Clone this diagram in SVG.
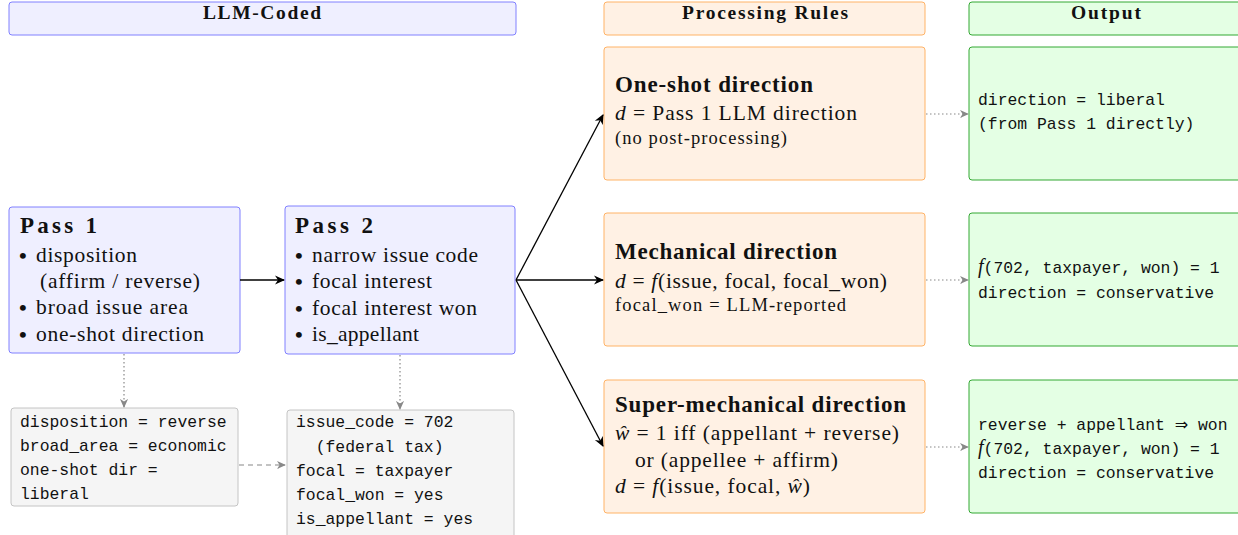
<svg xmlns="http://www.w3.org/2000/svg" width="1238" height="535" viewBox="0 0 1238 535">
<style>
.blue{fill:#efefff;stroke:#8080ff;stroke-width:1}
.orange{fill:#fff1e4;stroke:#ffb366;stroke-width:1}
.green{fill:#e4ffe4;stroke:#33a833;stroke-width:1}
.gray{fill:#f5f5f5;stroke:#c4c4c4;stroke-width:1}
.hdr{font-family:"Liberation Serif",serif;font-weight:bold;font-size:19.5px;fill:#111;text-anchor:middle}
.ttl{font-family:"Liberation Serif",serif;font-weight:bold;font-size:23px;fill:#111}
.rm{font-family:"Liberation Serif",serif;font-size:21.5px;fill:#111}
.bul{font-family:"Liberation Serif",serif;font-size:22px;font-weight:bold;fill:#111}
.sm{font-family:"Liberation Serif",serif;font-size:18.5px;fill:#111}
.tt{font-family:"Liberation Mono",monospace;font-size:16.4px;fill:#111}
.it{font-style:italic}
.solid{stroke:#000;stroke-width:1.3;fill:none}
.dot{stroke:#888;stroke-width:1.2;stroke-dasharray:1.5 2.5;fill:none}
.dash{stroke:#888;stroke-width:1.2;stroke-dasharray:5 4;fill:none}
</style>
<defs>
<marker id="ab" viewBox="0 0 10 10" refX="9" refY="5" markerWidth="10" markerHeight="10" markerUnits="userSpaceOnUse" orient="auto">
<path d="M0,0.5 L10,5 L0,9.5 L3,5 Z" fill="#000"/>
</marker>
<marker id="ag" viewBox="0 0 10 10" refX="9" refY="5" markerWidth="9" markerHeight="9" markerUnits="userSpaceOnUse" orient="auto">
<path d="M0,0.5 L10,5 L0,9.5 L3,5 Z" fill="#888"/>
</marker>
</defs>

<g id="hdr-llm">
<rect class="blue" x="9" y="2" width="507" height="33" rx="3"/>
<text class="hdr" x="262" y="19" textLength="118">LLM-Coded</text>
</g>
<g id="hdr-rules">
<rect class="orange" x="604" y="2" width="321" height="33" rx="3"/>
<text class="hdr" x="765" y="19" textLength="166">Processing Rules</text>
</g>
<g id="hdr-output">
<rect class="green" x="969" y="2" width="300" height="33" rx="3"/>
<text class="hdr" x="1106" y="19" textLength="70">Output</text>
</g>

<g id="pass1">
<rect class="blue" x="9" y="207" width="231" height="146" rx="3"/>
<text class="ttl" x="20" y="233" textLength="77">Pass 1</text>
<text class="bul" x="19" y="263">•</text><text class="rm" x="36" y="262" textLength="101">disposition</text>
<text class="rm" x="40" y="288" textLength="160">(affirm / reverse)</text>
<text class="bul" x="19" y="315">•</text><text class="rm" x="36" y="314" textLength="152">broad issue area</text>
<text class="bul" x="19" y="342">•</text><text class="rm" x="36" y="341" textLength="168">one-shot direction</text>
</g>

<g id="pass2">
<rect class="blue" x="285" y="206" width="230" height="148" rx="3"/>
<text class="ttl" x="295" y="233" textLength="78">Pass 2</text>
<text class="bul" x="295" y="263">•</text><text class="rm" x="312" y="262" textLength="166">narrow issue code</text>
<text class="bul" x="295" y="289">•</text><text class="rm" x="312" y="288" textLength="120">focal interest</text>
<text class="bul" x="295" y="316">•</text><text class="rm" x="312" y="315" textLength="165">focal interest won</text>
<text class="bul" x="295" y="342">•</text><text class="rm" x="312" y="341" textLength="107">is_appellant</text>
</g>

<g id="ex1">
<rect class="gray" x="11" y="408" width="227" height="98" rx="3"/>
<text class="tt" x="20" y="427">disposition = reverse</text>
<text class="tt" x="20" y="451">broad_area = economic</text>
<text class="tt" x="20" y="475">one-shot dir =</text>
<text class="tt" x="20" y="499">liberal</text>
</g>

<g id="ex2">
<rect class="gray" x="287" y="410" width="227" height="140" rx="3"/>
<text class="tt" x="296" y="427">issue_code = 702</text>
<text class="tt" x="296" y="452" xml:space="preserve">  (federal tax)</text>
<text class="tt" x="296" y="476">focal = taxpayer</text>
<text class="tt" x="296" y="500">focal_won = yes</text>
<text class="tt" x="296" y="524">is_appellant = yes</text>
</g>

<g id="rule-oneshot">
<rect class="orange" x="604" y="47" width="321" height="133" rx="3"/>
<text class="ttl" x="615" y="92" textLength="198">One-shot direction</text>
<text class="rm" x="615" y="120" textLength="242"><tspan class="it">d</tspan> = Pass 1 LLM direction</text>
<text class="sm" x="615" y="144" textLength="172">(no post-processing)</text>
</g>

<g id="rule-mech">
<rect class="orange" x="604" y="213" width="321" height="133" rx="3"/>
<text class="ttl" x="615" y="259" textLength="222">Mechanical direction</text>
<text class="rm" x="615" y="288" textLength="272"><tspan class="it">d</tspan> = <tspan class="it">f</tspan>(issue, focal, focal_won)</text>
<text class="sm" x="615" y="311" textLength="231">focal_won = LLM-reported</text>
</g>

<g id="rule-super">
<rect class="orange" x="604" y="380" width="321" height="133" rx="3"/>
<text class="ttl" x="615" y="412" textLength="291">Super-mechanical direction</text>
<text class="rm" x="615" y="440" textLength="284"><tspan class="it">ŵ</tspan> = 1 iff (appellant + reverse)</text>
<text class="rm" x="635" y="467" textLength="203">or (appellee + affirm)</text>
<text class="rm" x="615" y="493" textLength="195"><tspan class="it">d</tspan> = <tspan class="it">f</tspan>(issue, focal, <tspan class="it">ŵ</tspan>)</text>
</g>

<g id="out-oneshot">
<rect class="green" x="969" y="47" width="300" height="133" rx="3"/>
<text class="tt" x="978" y="105">direction = liberal</text>
<text class="tt" x="978" y="129">(from Pass 1 directly)</text>
</g>

<g id="out-mech">
<rect class="green" x="969" y="213" width="300" height="133" rx="3"/>
<text class="tt" x="978" y="273"><tspan font-family="Liberation Serif" font-style="italic" font-size="20px">f</tspan>(702, taxpayer, won) = 1</text>
<text class="tt" x="978" y="298">direction = conservative</text>
</g>

<g id="out-super">
<rect class="green" x="969" y="380" width="300" height="133" rx="3"/>
<text class="tt" x="978" y="430">reverse + appellant <tspan font-family="DejaVu Sans" font-size="16px">⇒</tspan> won</text>
<text class="tt" x="978" y="454"><tspan font-family="Liberation Serif" font-style="italic" font-size="20px">f</tspan>(702, taxpayer, won) = 1</text>
<text class="tt" x="978" y="478">direction = conservative</text>
</g>

<g id="connectors">
<line class="solid" x1="240" y1="280" x2="284" y2="280" marker-end="url(#ab)"/>
<line class="solid" x1="516" y1="280" x2="603" y2="115" marker-end="url(#ab)"/>
<line class="solid" x1="516" y1="280" x2="603" y2="280" marker-end="url(#ab)"/>
<line class="solid" x1="516" y1="280" x2="603" y2="446" marker-end="url(#ab)"/>
<line class="dot" x1="124" y1="354" x2="124" y2="407" marker-end="url(#ag)"/>
<line class="dot" x1="400" y1="355" x2="400" y2="409" marker-end="url(#ag)"/>
<line class="dash" x1="239" y1="465" x2="285" y2="465" marker-end="url(#ag)"/>
<line class="dot" x1="926" y1="114" x2="968" y2="114" marker-end="url(#ag)"/>
<line class="dot" x1="926" y1="280" x2="968" y2="280" marker-end="url(#ag)"/>
<line class="dot" x1="926" y1="447" x2="968" y2="447" marker-end="url(#ag)"/>
</g>
</svg>
